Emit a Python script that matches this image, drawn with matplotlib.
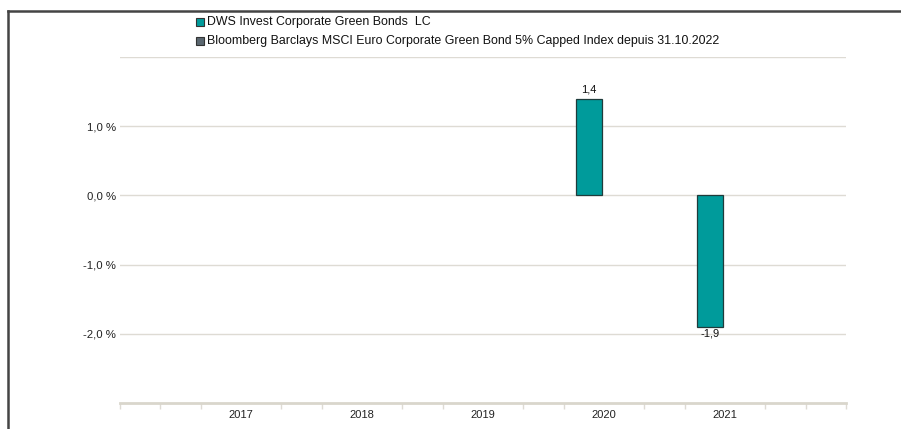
import numpy as np
import matplotlib.pyplot as plt
from matplotlib.lines import Line2D
from matplotlib.patches import Rectangle

plt.rcParams['font.family'] = ['Liberation Sans', 'DejaVu Sans']

# Daten
jahre = [2017, 2018, 2019, 2020, 2021]
fonds = [np.nan, np.nan, np.nan, 1.4, -1.9]
benchmark = [np.nan, np.nan, np.nan, np.nan, np.nan]
name_fonds = "DWS Invest Corporate Green Bonds  LC"
name_bench = "Bloomberg Barclays MSCI Euro Corporate Green Bond 5% Capped Index depuis 31.10.2022"
y_ticks = [-2.0, -1.0, 0.0, 1.0]

farbe_fonds = "#009b9b"
farbe_bench = "#5b6770"
rand = "#1f3b3b"
gitter = "#dedbd4"

fig = plt.figure(figsize=(9.01, 4.29), dpi=100)
ax = fig.add_axes([120 / 901, 1 - 403 / 429, 726 / 901, 346 / 429])

breite = 0.216
x = np.array(jahre, dtype=float)
ax.bar(x - breite / 2 - 0.015, fonds, width=breite, color=farbe_fonds, edgecolor=rand, linewidth=0.9, zorder=3)
ax.bar(x + breite / 2 - 0.015, benchmark, width=breite, color=farbe_bench, edgecolor=rand, linewidth=0.9, zorder=3)

for xi, v in zip(x, fonds):
    if np.isnan(v):
        continue
    txt = f"{v:.1f}".replace(".", ",")
    if v >= 0:
        ax.annotate(txt, (xi - breite / 2 - 0.015, v), xytext=(0, 3), textcoords="offset points",
                    ha="center", va="bottom", fontsize=8, color="#111111")
    else:
        ax.annotate(txt, (xi - breite / 2 - 0.015, v), xytext=(0, -1), textcoords="offset points",
                    ha="center", va="top", fontsize=8, color="#111111")

ax.set_xlim(2016, 2022)
ax.set_ylim(-3, 2)

ax.set_yticks(y_ticks)
ax.set_yticklabels([f"{t:.1f} %".replace(".", ",") for t in y_ticks])
for t in y_ticks + [2.0]:
    ax.axhline(t, color=gitter, linewidth=1, zorder=1)

ax.set_xticks(jahre)
ax.set_xticklabels([str(j) for j in jahre])
ax.set_xticks([2016 + i / 3 for i in range(19) if i % 3 != 0 or i in (0, 18)], minor=True)
ax.tick_params(axis="x", which="major", length=0, pad=5, labelsize=8, colors="#222222")
ax.tick_params(axis="x", which="minor", length=4, width=1, color=gitter)
ax.tick_params(axis="y", length=0, pad=3, labelsize=8.2, colors="#222222")

for s in ["top", "right", "left"]:
    ax.spines[s].set_visible(False)
ax.spines["bottom"].set_color("#d9d6cc")
ax.spines["bottom"].set_linewidth(2)

# Legende
for i, (name, farbe) in enumerate([(name_fonds, farbe_fonds), (name_bench, farbe_bench)]):
    yc = 1 - (22 + i * 19) / 429
    fig.add_artist(Rectangle((196 / 901, yc - 4 / 429), 8 / 901, 8 / 429, facecolor=farbe,
                             edgecolor="#333333", linewidth=0.8, transform=fig.transFigure))
    fig.text(207 / 901, yc, name, ha="left", va="center", fontsize=8.9, color="#111111")

# Rahmen
fig.add_artist(Line2D([7.5 / 901, 7.5 / 901], [0, 1 - 10.5 / 429], color="#444444", linewidth=1.8,
                      transform=fig.transFigure))
fig.add_artist(Line2D([7.5 / 901, 1], [1 - 10.5 / 429, 1 - 10.5 / 429], color="#444444", linewidth=1.8,
                      transform=fig.transFigure))

fig.savefig("out.png", dpi=100)
